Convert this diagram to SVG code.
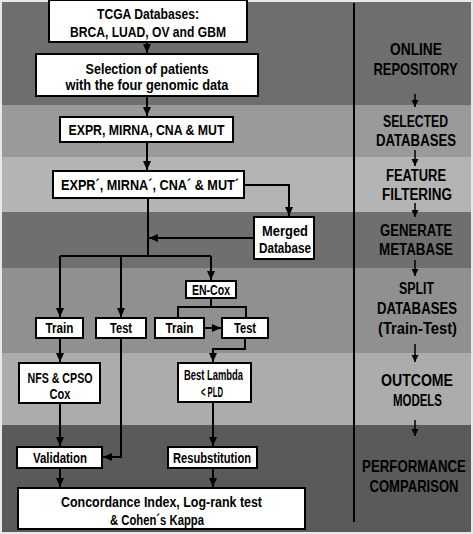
<svg xmlns="http://www.w3.org/2000/svg" width="473" height="534" viewBox="0 0 473 534">
<defs>
<style>
.box{fill:#fff;stroke:#000;stroke-width:2}
.t{font-family:"Liberation Sans",Arial,sans-serif;font-weight:bold;font-size:14px;fill:#000;text-anchor:middle}
.r{font-family:"Liberation Sans",Arial,sans-serif;font-weight:bold;font-size:16px;fill:#000;text-anchor:middle}
.c{fill:none;stroke:#000;stroke-width:2}
.ra{fill:none;stroke:#000;stroke-width:1.5}
</style>
<marker id="ah" markerUnits="userSpaceOnUse" markerWidth="10" markerHeight="10" viewBox="0 0 10 10" refX="9" refY="5" orient="auto">
<path d="M0,1 L9,5 L0,9 Z" fill="#000"/>
</marker>
<marker id="sa" markerUnits="userSpaceOnUse" markerWidth="8" markerHeight="8" viewBox="0 0 8 8" refX="7" refY="4" orient="auto">
<path d="M0,0.5 L7,4 L0,7.5 Z" fill="#000"/>
</marker>
</defs>
<rect x="0" y="0" width="473" height="534" fill="#e8e8e8"/>
<g id="bands">
<rect x="2" y="2" width="469" height="103" fill="#6e6e6e"/>
<rect x="2" y="105" width="469" height="52" fill="#9a9a9a"/>
<rect x="2" y="157" width="469" height="55" fill="#b4b4b4"/>
<rect x="2" y="212" width="469" height="56" fill="#6f6f6f"/>
<rect x="2" y="268" width="469" height="85" fill="#909090"/>
<rect x="2" y="353" width="469" height="72" fill="#acacac"/>
<rect x="2" y="425" width="469" height="107" fill="#5a5a5a"/>
</g>
<g id="connectors">
<path class="c" d="M147,42 V53" marker-end="url(#ah)"/>
<path class="c" d="M147,96 V116" marker-end="url(#ah)"/>
<path class="c" d="M147,142 V170" marker-end="url(#ah)"/>
<path class="c" d="M244,185 H289 V216" marker-end="url(#ah)"/>
<path class="c" d="M148,198 V256"/>
<path class="c" d="M254,238 H149" marker-end="url(#ah)"/>
<path class="c" d="M60,256 H211"/>
<path class="c" d="M60,256 V317" marker-end="url(#ah)"/>
<path class="c" d="M121,256 V317" marker-end="url(#ah)"/>
<path class="c" d="M211,256 V280" marker-end="url(#ah)"/>
<path class="c" d="M211,298 V307"/>
<path class="c" d="M178,318 V307 H246 V318"/>
<path class="c" d="M204,328 H221" marker-end="url(#ah)"/>
<path class="c" d="M60,338 V362" marker-end="url(#ah)"/>
<path class="c" d="M121,338 V457 H103" marker-end="url(#ah)"/>
<path class="c" d="M245,338 V349 H213 V362" marker-end="url(#ah)"/>
<path class="c" d="M60,403 V446" marker-end="url(#ah)"/>
<path class="c" d="M213,402 V446" marker-end="url(#ah)"/>
<path class="c" d="M60,468 V487" marker-end="url(#ah)"/>
<path class="c" d="M213,468 V487" marker-end="url(#ah)"/>
</g>
<g id="tcga"><rect class="box" x="49" y="0" width="198" height="42"/>
<text class="t" x="148" y="19" textLength="102" lengthAdjust="spacingAndGlyphs">TCGA Databases:</text>
<text class="t" x="148" y="37" textLength="156" lengthAdjust="spacingAndGlyphs">BRCA, LUAD, OV and GBM</text></g>
<g id="selection"><rect class="box" x="36" y="54" width="222" height="42"/>
<text class="t" x="147" y="74" textLength="123" lengthAdjust="spacingAndGlyphs">Selection of patients</text>
<text class="t" x="147" y="90" textLength="163" lengthAdjust="spacingAndGlyphs">with the four genomic data</text></g>
<g id="expr"><rect class="box" x="60" y="117" width="173" height="25"/>
<text class="t" x="146.5" y="134.5" textLength="156" lengthAdjust="spacingAndGlyphs">EXPR, MIRNA, CNA &amp; MUT</text></g>
<g id="exprp"><rect class="box" x="53" y="171" width="191" height="27"/>
<text class="t" x="150" y="189.5" textLength="178" lengthAdjust="spacingAndGlyphs">EXPR´, MIRNA´, CNA´ &amp; MUT´</text></g>
<g id="merged"><rect class="box" x="254" y="217" width="60" height="42"/>
<text class="t" x="285" y="236" textLength="46" lengthAdjust="spacingAndGlyphs">Merged</text>
<text class="t" x="285" y="253" textLength="52" lengthAdjust="spacingAndGlyphs">Database</text></g>
<g id="encox"><rect class="box" x="186" y="281" width="50" height="17"/>
<text class="t" x="211" y="294.5" font-size="12" textLength="38" lengthAdjust="spacingAndGlyphs">EN-Cox</text></g>
<g id="train1"><rect class="box" x="36" y="318" width="47" height="20"/>
<text class="t" x="59.5" y="333" textLength="28" lengthAdjust="spacingAndGlyphs">Train</text></g>
<g id="test1"><rect class="box" x="96" y="318" width="50" height="20"/>
<text class="t" x="121" y="333" textLength="22" lengthAdjust="spacingAndGlyphs">Test</text></g>
<g id="train2"><rect class="box" x="155" y="318" width="49" height="20"/>
<text class="t" x="179.5" y="333" textLength="28" lengthAdjust="spacingAndGlyphs">Train</text></g>
<g id="test2"><rect class="box" x="222" y="318" width="46" height="20"/>
<text class="t" x="245" y="333" textLength="22" lengthAdjust="spacingAndGlyphs">Test</text></g>
<g id="nfs"><rect class="box" x="19" y="363" width="81" height="40"/>
<text class="t" x="60" y="383" font-size="13" textLength="65" lengthAdjust="spacingAndGlyphs">NFS &amp; CPSO</text>
<text class="t" x="60" y="399" font-size="13" textLength="21" lengthAdjust="spacingAndGlyphs">Cox</text></g>
<g id="bestlambda"><rect class="box" x="178" y="363" width="73" height="39"/>
<text class="t" x="213.5" y="380" font-size="11" textLength="59" lengthAdjust="spacingAndGlyphs">Best Lambda</text>
<text class="t" x="212" y="397" font-size="11" textLength="22" lengthAdjust="spacingAndGlyphs">&lt; PLD</text></g>
<g id="validation"><rect class="box" x="17" y="447" width="85" height="21"/>
<text class="t" x="60" y="462.5" font-size="13.5" textLength="54" lengthAdjust="spacingAndGlyphs">Validation</text></g>
<g id="resub"><rect class="box" x="168" y="447" width="89" height="21"/>
<text class="t" x="212" y="462.5" font-size="13.5" textLength="78" lengthAdjust="spacingAndGlyphs">Resubstitution</text></g>
<g id="concordance"><rect class="box" x="18" y="488" width="287" height="41"/>
<text class="t" x="161.5" y="507" font-size="15" textLength="201" lengthAdjust="spacingAndGlyphs">Concordance Index, Log-rank test</text>
<text class="t" x="157" y="525" font-size="15" textLength="94" lengthAdjust="spacingAndGlyphs">&amp; Cohen´s Kappa</text></g>
<g id="stages">
<line x1="354" y1="3" x2="354" y2="522" stroke="#000" stroke-width="2"/>
<text class="r" x="416" y="55" textLength="52" lengthAdjust="spacingAndGlyphs">ONLINE</text>
<text class="r" transform="translate(415.5,75) scale(0.81,1)" x="0" y="0">REPOSITORY</text>
<path class="ra" d="M415,94 V107" marker-end="url(#sa)"/>
<text class="r" x="415.5" y="127" textLength="65" lengthAdjust="spacingAndGlyphs">SELECTED</text>
<text class="r" x="416" y="146" textLength="80" lengthAdjust="spacingAndGlyphs">DATABASES</text>
<path class="ra" d="M415,150 V166" marker-end="url(#sa)"/>
<text class="r" x="416" y="181" textLength="60" lengthAdjust="spacingAndGlyphs">FEATURE</text>
<text class="r" x="417" y="200" textLength="70" lengthAdjust="spacingAndGlyphs">FILTERING</text>
<path class="ra" d="M415,203 V217" marker-end="url(#sa)"/>
<text class="r" x="416" y="236" textLength="72" lengthAdjust="spacingAndGlyphs">GENERATE</text>
<text class="r" x="416" y="255" textLength="74" lengthAdjust="spacingAndGlyphs">METABASE</text>
<path class="ra" d="M415,260 V276" marker-end="url(#sa)"/>
<text class="r" x="416.5" y="294" textLength="35" lengthAdjust="spacingAndGlyphs">SPLIT</text>
<text class="r" x="417" y="314" textLength="80" lengthAdjust="spacingAndGlyphs">DATABASES</text>
<text class="r" x="417.5" y="334" textLength="79" lengthAdjust="spacingAndGlyphs">(Train-Test)</text>
<path class="ra" d="M415,344 V362" marker-end="url(#sa)"/>
<text class="r" x="417" y="386" textLength="72" lengthAdjust="spacingAndGlyphs">OUTCOME</text>
<text class="r" x="417.5" y="406" textLength="49" lengthAdjust="spacingAndGlyphs">MODELS</text>
<path class="ra" d="M415,420 V436" marker-end="url(#sa)"/>
<text class="r" transform="translate(414,472) scale(0.83,1)" x="0" y="0">PERFORMANCE</text>
<text class="r" transform="translate(414,492) scale(0.816,1)" x="0" y="0">COMPARISON</text>
</g>
</svg>
